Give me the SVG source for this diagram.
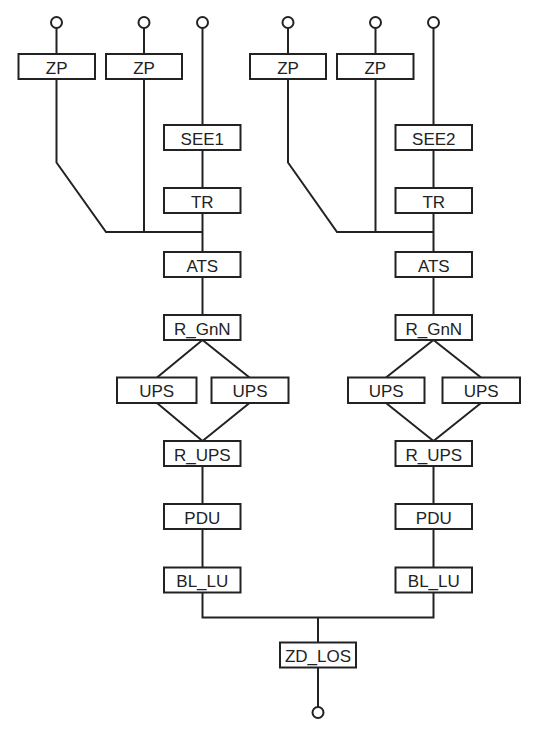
<svg xmlns="http://www.w3.org/2000/svg" width="536" height="732" viewBox="0 0 536 732">
<style>
.b{fill:#fff;stroke:#222;stroke-width:2}
.t{font-family:"Liberation Sans",Arial,sans-serif;font-size:17px;fill:#222;text-anchor:middle}
.c{fill:none;stroke:#222;stroke-width:2;stroke-linejoin:miter}
.o{fill:#fff;stroke:#222;stroke-width:2}
</style>
<rect width="536" height="732" fill="#fff"/>
<g id="connectors" class="c">
<path d="M56.5 28V54M56.5 79V162.5L106 232H202.5M144 28V54M144 79V232M202.5 28V125M202.5 150V188M202.5 213V252M202.5 277V315"/>
<path d="M288 28V54M288 79V162.5L337 232H433.5M375.5 28V54M375.5 79V232M433.5 28V125M433.5 150V188M433.5 213V252M433.5 277V315"/>
<path d="M157 377.5L202.5 340L249.5 377.5M157 403L202.5 441L249.5 403"/>
<path d="M386 377.5L433.5 340L481 377.5M386 403L433.5 441L481 403"/>
<path d="M202.5 466V504M202.5 529V567.5M202.5 592.5V617.5H433.5V592.5M433.5 466V504M433.5 529V567.5"/>
<path d="M318 617.5V642.5M318 667.5V707"/>
</g>
<g id="in1"><circle class="o" cx="56.5" cy="22.5" r="5.5"/></g>
<g id="in2"><circle class="o" cx="144" cy="22.5" r="5.5"/></g>
<g id="in3"><circle class="o" cx="202.5" cy="22.5" r="5.5"/></g>
<g id="in4"><circle class="o" cx="288" cy="22.5" r="5.5"/></g>
<g id="in5"><circle class="o" cx="375.5" cy="22.5" r="5.5"/></g>
<g id="in6"><circle class="o" cx="433.5" cy="22.5" r="5.5"/></g>
<g id="out"><circle class="o" cx="318" cy="712.5" r="5.5"/></g>
<g id="zp1"><rect class="b" x="18.5" y="54" width="76.5" height="25"/><text class="t" x="56.7" y="73.5">ZP</text></g>
<g id="zp2"><rect class="b" x="106" y="54" width="76" height="25"/><text class="t" x="144" y="73.5">ZP</text></g>
<g id="zp3"><rect class="b" x="250" y="54" width="76" height="25"/><text class="t" x="288" y="73.5">ZP</text></g>
<g id="zp4"><rect class="b" x="337" y="54" width="76.5" height="25"/><text class="t" x="375.3" y="73.5">ZP</text></g>
<g id="see1"><rect class="b" x="164" y="125" width="76.5" height="25"/><text class="t" x="202.3" y="144.5">SEE1</text></g>
<g id="see2"><rect class="b" x="395.5" y="125" width="76.5" height="25"/><text class="t" x="433.8" y="144.5">SEE2</text></g>
<g id="tr1"><rect class="b" x="164" y="188" width="76.5" height="25"/><text class="t" x="202.3" y="207.5">TR</text></g>
<g id="tr2"><rect class="b" x="395.5" y="188" width="76.5" height="25"/><text class="t" x="433.8" y="207.5">TR</text></g>
<g id="ats1"><rect class="b" x="164" y="252" width="76.5" height="25"/><text class="t" x="202.3" y="271.5">ATS</text></g>
<g id="ats2"><rect class="b" x="395.5" y="252" width="76.5" height="25"/><text class="t" x="433.8" y="271.5">ATS</text></g>
<g id="rgnn1"><rect class="b" x="164" y="315" width="76.5" height="25"/><text class="t" x="202.3" y="334.5">R_GnN</text></g>
<g id="rgnn2"><rect class="b" x="395.5" y="315" width="76.5" height="25"/><text class="t" x="433.8" y="334.5">R_GnN</text></g>
<g id="ups1a"><rect class="b" x="117" y="377.5" width="79.5" height="25.5"/><text class="t" x="156.7" y="397">UPS</text></g>
<g id="ups1b"><rect class="b" x="211.5" y="377.5" width="77" height="25.5"/><text class="t" x="250" y="397">UPS</text></g>
<g id="ups2a"><rect class="b" x="348" y="377.5" width="76.5" height="25.5"/><text class="t" x="386.2" y="397">UPS</text></g>
<g id="ups2b"><rect class="b" x="442.5" y="377.5" width="77.5" height="25.5"/><text class="t" x="481.2" y="397">UPS</text></g>
<g id="rups1"><rect class="b" x="164" y="441" width="76.5" height="25"/><text class="t" x="202.3" y="460.5">R_UPS</text></g>
<g id="rups2"><rect class="b" x="395.5" y="441" width="76.5" height="25"/><text class="t" x="433.8" y="460.5">R_UPS</text></g>
<g id="pdu1"><rect class="b" x="164" y="504" width="76.5" height="25"/><text class="t" x="202.3" y="523.5">PDU</text></g>
<g id="pdu2"><rect class="b" x="395.5" y="504" width="76.5" height="25"/><text class="t" x="433.8" y="523.5">PDU</text></g>
<g id="bllu1"><rect class="b" x="164" y="567.5" width="76.5" height="25"/><text class="t" x="202.3" y="587">BL_LU</text></g>
<g id="bllu2"><rect class="b" x="395.5" y="567.5" width="76.5" height="25"/><text class="t" x="433.8" y="587">BL_LU</text></g>
<g id="zdlos"><rect class="b" x="280" y="642.5" width="76" height="25"/><text class="t" x="318" y="662">ZD_LOS</text></g>
</svg>
